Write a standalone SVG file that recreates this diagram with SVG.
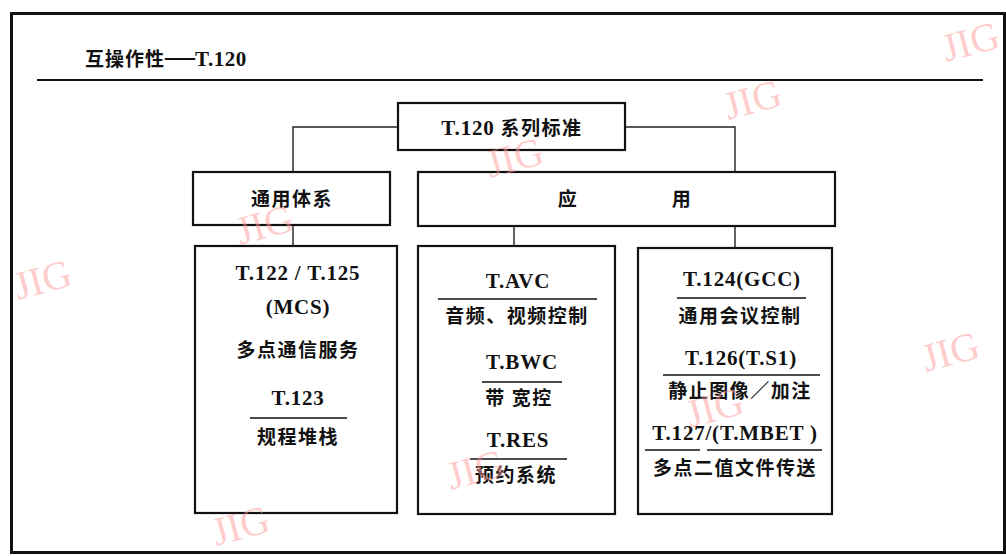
<svg xmlns="http://www.w3.org/2000/svg" width="1006" height="556" viewBox="0 0 1006 556">
<style>
.box{fill:#fff;stroke:#111;stroke-width:2.2}
.t{font-family:"Liberation Serif","Noto Sans CJK SC",serif;font-size:21px;letter-spacing:0.8px;fill:#111;text-anchor:middle;font-weight:bold}
.c{font-family:"Noto Sans CJK SC",sans-serif;font-size:19px;letter-spacing:1.5px;fill:#111;text-anchor:middle;font-weight:bold}
.rule{stroke:#111;stroke-width:1.6}
.conn{stroke:#222;stroke-width:1.4;fill:none}
.wm{font-family:"Liberation Serif",serif;font-size:40px;fill:#ff9a9a;fill-opacity:0.5}
</style>
<rect x="11.5" y="13.5" width="993" height="539" fill="#fff" stroke="#111" stroke-width="3"/>
<g id="title">
<text x="85" y="66" font-family="Noto Sans CJK SC, sans-serif" font-size="19" letter-spacing="1" font-weight="bold" fill="#111">互操作性<tspan font-family="Liberation Serif, serif" font-size="30" letter-spacing="0">—</tspan><tspan font-family="Liberation Serif, serif" font-size="21" letter-spacing="0.5">T.120</tspan></text>
<line x1="37" y1="80" x2="983" y2="80" stroke="#111" stroke-width="2"/>
</g>
<g id="connectors">
<polyline class="conn" points="398,127 293,127 293,172"/>
<polyline class="conn" points="625,127 735,127 735,172"/>
<line class="conn" x1="293" y1="225" x2="293" y2="246"/>
<line class="conn" x1="514" y1="226" x2="514" y2="246"/>
<line class="conn" x1="735" y1="226" x2="735" y2="248"/>
</g>
<g id="n-root">
<rect class="box" x="398" y="103" width="227" height="47"/>
<text class="t" x="512" y="135">T.120 <tspan font-family="Noto Sans CJK SC, sans-serif" font-size="19" letter-spacing="1.5">系列标准</tspan></text>
</g>
<g id="n-general">
<rect class="box" x="193" y="172" width="197" height="53"/>
<text class="c" x="292" y="206">通用体系</text>
</g>
<g id="n-app">
<rect class="box" x="418" y="172" width="417" height="54"/>
<text class="c" x="568" y="206">应</text>
<text class="c" x="682" y="206">用</text>
</g>
<g id="n-mcs">
<rect class="box" x="195" y="246" width="202" height="267"/>
<text class="t" x="298" y="280">T.122 / T.125</text>
<text class="t" x="298" y="314">(MCS)</text>
<text class="c" x="298" y="357">多点通信服务</text>
<text class="t" x="298" y="405">T.123</text>
<line class="rule" x1="250" y1="418" x2="347" y2="418"/>
<text class="c" x="298" y="444">规程堆栈</text>
</g>
<g id="n-ctrl">
<rect class="box" x="418" y="246" width="197" height="268"/>
<text class="t" x="518" y="288">T.AVC</text>
<line class="rule" x1="438" y1="299" x2="597" y2="299"/>
<text class="c" x="517" y="323">音频、视频控制</text>
<text class="t" x="522" y="369">T.BWC</text>
<line class="rule" x1="482" y1="382" x2="562" y2="382"/>
<text class="c" x="519" y="405">带 宽控</text>
<text class="t" x="518" y="447">T.RES</text>
<line class="rule" x1="470" y1="459" x2="567" y2="459"/>
<text class="c" x="516" y="482">预约系统</text>
</g>
<g id="n-gcc">
<rect class="box" x="638" y="248" width="194" height="266"/>
<text class="t" x="742" y="286">T.124(GCC)</text>
<line class="rule" x1="677" y1="298" x2="806" y2="298"/>
<text class="c" x="740" y="323">通用会议控制</text>
<text class="t" x="741" y="365">T.126(T.S1)</text>
<line class="rule" x1="663" y1="375" x2="820" y2="375"/>
<text class="c" x="740" y="398">静止图像／加注</text>
<text class="t" x="735" y="440">T.127/(T.MBET )</text>
<line class="rule" x1="645" y1="450" x2="700" y2="450"/>
<line class="rule" x1="707" y1="450" x2="822" y2="450"/>
<text class="c" x="735" y="475">多点二值文件传送</text>
</g>
<g id="watermarks">
<text class="wm" transform="translate(946,62) rotate(-15)">JIG</text>
<text class="wm" transform="translate(728,120) rotate(-15)">JIG</text>
<text class="wm" transform="translate(490,178) rotate(-15)">JIG</text>
<text class="wm" transform="translate(240,245) rotate(-15)">JIG</text>
<text class="wm" transform="translate(18,300) rotate(-15)">JIG</text>
<text class="wm" transform="translate(926,372) rotate(-15)">JIG</text>
<text class="wm" transform="translate(690,428) rotate(-15)">JIG</text>
<text class="wm" transform="translate(451,490) rotate(-15)">JIG</text>
<text class="wm" transform="translate(216,546) rotate(-15)">JIG</text>
</g>
</svg>
